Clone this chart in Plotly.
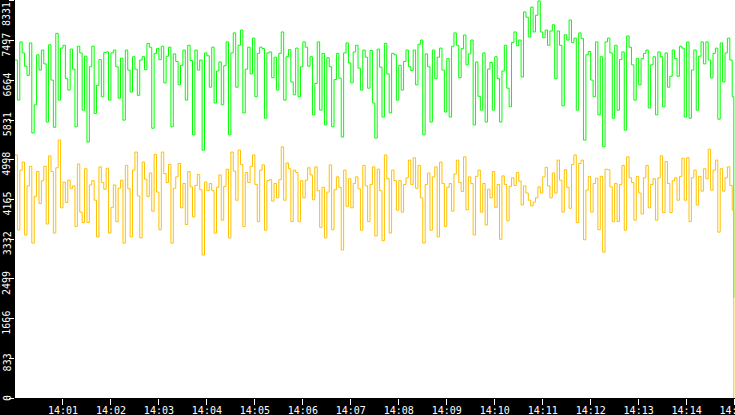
import pandas as pd
import plotly.graph_objects as go

# samples every 3 s from 14:00:00, one row per minute
green_vals = [
    7091, 6250, 7470, 7240, 6960, 6770, 7450, 5560, 6150, 7200, 6880, 7300, 7010, 5790, 7410, 6670, 5680, 7650, 6250, 7340,
    7400, 6700, 6460, 7320, 6900, 5690, 7380, 7240, 6040, 7170, 5370, 6950, 7380, 5970, 6560, 7100, 6320, 7250, 7260, 6250,
    7240, 7300, 6950, 6290, 7130, 5830, 7300, 6880, 6420, 7160, 6900, 6350, 7090, 7160, 6890, 7440, 7360, 5660, 7230, 7330,
    7100, 7380, 6610, 7170, 7360, 5690, 7220, 7060, 6570, 6980, 7300, 6250, 7400, 7080, 5520, 7300, 6880, 7090, 5200, 7240,
    7180, 6520, 7360, 6190, 6860, 7050, 6150, 6970, 7470, 5520, 7240, 7660, 6520, 7400, 7720, 5980, 6900, 7360, 6800, 7550,
    6320, 7230, 7360, 7330, 5870, 7240, 7260, 6720, 7150, 6460, 7230, 7680, 6250, 7160, 7310, 6630, 6360, 7340, 6320, 6950,
    7470, 7360, 6960, 7160, 5940, 6600, 7470, 6040, 7230, 5730, 7140, 6950, 5690, 6680, 7230, 6710, 5475, 7240, 7450, 7030,
    6610, 7260, 7400, 6920, 6460, 7300, 7150, 6500, 7290, 6190, 5455, 7320, 6940, 5895, 7440, 6800, 5980, 7230, 7200, 6250,
    6980, 6460, 7060, 7300, 6950, 6870, 7300, 6570, 7420, 7510, 5520, 7220, 6950, 5790, 7300, 6700, 7150, 7340, 6880, 6000,
    7120, 5895, 7380, 7660, 7400, 6720, 7330, 7615, 6990, 7220, 7510, 5730, 7050, 6330, 6040, 7240, 5790, 6900, 7040, 6040,
    7160, 6700, 5790, 6860, 7400, 6500, 6110, 7460, 7680, 7390, 7510, 6735, 8100, 7990, 7575, 8200, 7680, 8030, 8330, 7680,
    7560, 7720, 7400, 7700, 7830, 6700, 7700, 7400, 6130, 7620, 7510, 7930, 7460, 7550, 6040, 7660, 7540, 5410, 7200, 7270,
    6670, 6320, 7470, 5940, 7160, 5270, 7470, 7550, 7240, 5870, 7400, 6040, 7100, 7260, 5620, 7595, 7360, 6990, 6250, 7120,
    6570, 7120, 7230, 7300, 6085, 6990, 7160, 5940, 7260, 7160, 6110, 7240, 6520, 6750, 7300, 7120, 6750, 7380, 7340, 5895,
    7470, 5870, 6880, 7300, 6040, 7170, 7470, 7010, 7470, 7090, 6715, 7230, 7340, 5850, 7450, 6630, 7240, 7550, 7090, 6320,
    2100,
]

yellow_vals = [
    5100, 3525, 4780, 4950, 3420, 4450, 4860, 3250, 4230, 4750, 4080, 4560, 4860, 3650, 5080, 4750, 3460, 4830, 5410, 3990,
    4530, 4100, 4570, 4400, 4450, 3600, 4910, 3900, 3680, 4810, 3680, 4470, 4560, 4150, 3380, 4850, 4520, 4380, 4820, 3460,
    4000, 4470, 3700, 4400, 4570, 3250, 4880, 4390, 3380, 4780, 5160, 4240, 3360, 4950, 4590, 4230, 4720, 3920, 5110, 4320,
    3530, 5160, 4710, 4520, 4900, 3250, 4400, 4640, 4920, 3990, 4500, 3640, 4750, 4430, 3800, 4460, 4690, 4370, 3000, 4530,
    4350, 4500, 4350, 3460, 4420, 4680, 3730, 4440, 4800, 3360, 5160, 4760, 4150, 5200, 4900, 3600, 4730, 4520, 4860, 5100,
    4480, 3700, 4780, 4890, 3520, 4560, 4580, 4130, 4500, 4200, 4580, 5270, 4150, 4930, 4810, 3700, 4780, 4730, 3700, 4560,
    4200, 4570, 4830, 4680, 4160, 4850, 4350, 3580, 4420, 3360, 4320, 4890, 3530, 4370, 4640, 4420, 3105, 4780, 4020, 4600,
    3990, 4500, 4640, 4390, 3520, 4880, 4450, 3700, 4480, 4850, 3400, 4800, 4350, 3300, 5100, 4600, 3460, 4780, 4560, 3940,
    4560, 3900, 4480, 4620, 4990, 4480, 5040, 4400, 4880, 4200, 3250, 4480, 4720, 3520, 4640, 4850, 3380, 4950, 4500, 3600,
    4420, 4500, 3920, 4700, 4990, 4520, 4330, 5060, 3950, 4640, 4500, 3420, 4650, 4780, 3900, 4500, 3630, 4380, 4200, 4750,
    4000, 4480, 3330, 4660, 4480, 3720, 4440, 4620, 4460, 4730, 4550, 4050, 4450, 4300, 4150, 4030, 4110, 4200, 4430, 4300,
    4640, 4840, 4450, 4200, 4720, 4300, 4990, 4570, 3900, 4790, 4420, 3980, 4900, 5100, 3680, 4920, 4990, 3320, 4360, 4650,
    3900, 4500, 4610, 3530, 4650, 3060, 4800, 4790, 4430, 3700, 4500, 3700, 4480, 4880, 3520, 5060, 4620, 4520, 3730, 4650,
    4300, 3860, 4620, 4880, 3990, 4480, 4600, 3730, 4620, 5080, 3890, 4960, 4500, 3890, 4560, 4620, 4150, 4650, 5030, 4150,
    5040, 3700, 4620, 4780, 4050, 4650, 4340, 4810, 4600, 5220, 4360, 4780, 4990, 3480, 4810, 4340, 4620, 4850, 4460, 3940,
    0,
]

y_ticks = [0, 833, 1666, 2499, 3332, 4165, 4998, 5831, 6664, 7497, 8331]
x_ticks = ["14:01", "14:02", "14:03", "14:04", "14:05", "14:06", "14:07", "14:08",
           "14:09", "14:10", "14:11", "14:12", "14:13", "14:14", "14:15"]

day = "2024-01-01 "
times = list(pd.date_range(day + "14:00:00", periods=300, freq="3s"))
times.append(pd.Timestamp(day + "14:14:59"))

mono = "DejaVu Sans Mono"

fig = go.Figure()
fig.add_trace(go.Scatter(x=times, y=green_vals, mode="lines",
                         line=dict(color="#00ff00", width=1, shape="hv"),
                         hoverinfo="skip"))
fig.add_trace(go.Scatter(x=times, y=yellow_vals, mode="lines",
                         line=dict(color="#ffc000", width=1, shape="hv"),
                         hoverinfo="skip"))

# rotated y labels, nudged below their ticks like the original
for v in y_ticks:
    shift = -4
    if v == y_ticks[-1]:
        shift = -13
    elif v == 0:
        shift = 0
    fig.add_annotation(x=-0.011, xref="paper", y=v, yref="y", text=str(v),
                       showarrow=False, textangle=-90, xanchor="center",
                       yanchor="middle", yshift=shift,
                       font=dict(family=mono, size=10, color="white"))

fig.update_layout(
    width=735, height=415,
    margin=dict(l=15, r=0, t=0, b=17, pad=0, autoexpand=False),
    paper_bgcolor="black", plot_bgcolor="white",
    showlegend=False,
)
fig.update_xaxes(
    range=[day + "14:00:00", day + "14:15:00.5"],
    tickvals=[day + t for t in x_ticks], ticktext=x_ticks,
    ticks="outside", ticklen=6, tickcolor="white", tickwidth=1,
    ticklabelstandoff=-3, ticklabeloverflow="allow",
    tickfont=dict(family=mono, size=10, color="white"),
    showgrid=False, zeroline=False, showline=False, automargin=False,
)
fig.update_yaxes(
    range=[0, 8350], tickvals=y_ticks, showticklabels=False,
    ticks="outside", ticklen=5, tickcolor="white", tickwidth=1,
    showgrid=False, zeroline=False, showline=False, automargin=False,
)

# page has a default body margin; drop it so the chart sits at the corner
fig.write_html("out.html", config={"displayModeBar": False},
               post_script="document.body.style.margin='0';")
